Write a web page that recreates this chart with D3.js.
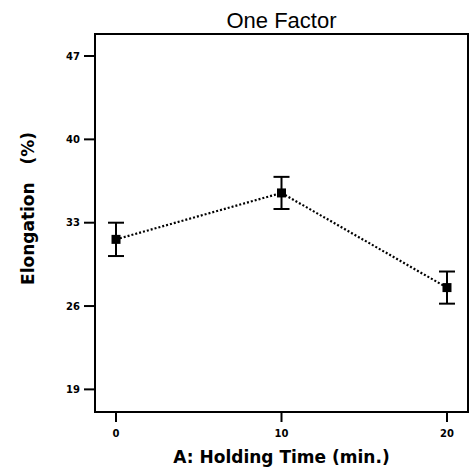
<!DOCTYPE html>
<html lang="en">
<head>
<meta charset="utf-8">
<title>One Factor</title>
<script src="https://d3js.org/d3.v7.min.js"></script>
<style>
  body { margin: 0; background: #fff; }
  text { font-family: "Liberation Sans", Arial, sans-serif; }
  .bold { font-family: "DejaVu Sans", sans-serif; font-weight: bold; }
</style>
</head>
<body>
<script>
// data
var times = [0, 10, 20];
var elongation = [31.6, 35.5, 27.55];
var errLow = [30.2, 34.15, 26.2];
var errHigh = [33.0, 36.85, 28.9];
var yTicks = [19, 26, 33, 40, 47];
var xTicks = [0, 10, 20];

var W = 471, H = 468;
var pLeft = 95, pRight = 468, pTop = 34, pBottom = 412;

var svg = d3.select("body").append("svg")
    .attr("width", W).attr("height", H);

var x = d3.scaleLinear().domain([-1.27, 21.27]).range([pLeft, pRight]);
var y = d3.scaleLinear().domain([17.1, 48.85]).range([pBottom, pTop]);

// frame
svg.append("rect")
    .attr("x", pLeft).attr("y", pTop)
    .attr("width", pRight - pLeft).attr("height", pBottom - pTop)
    .attr("fill", "none").attr("stroke", "#000").attr("stroke-width", 2);

// y axis ticks
var yAxis = svg.append("g");
yAxis.selectAll("line").data(yTicks).enter().append("line")
    .attr("x1", pLeft - 11).attr("x2", pLeft)
    .attr("y1", function(d) { return y(d); })
    .attr("y2", function(d) { return y(d); })
    .attr("stroke", "#000").attr("stroke-width", 2);
yAxis.selectAll("text").data(yTicks).enter().append("text")
    .attr("class", "bold")
    .attr("x", pLeft - 15)
    .attr("y", function(d) { return y(d); })
    .attr("dy", "0.36em")
    .attr("text-anchor", "end")
    .attr("font-size", 10)
    .text(function(d) { return d; });

// x axis ticks
var xAxis = svg.append("g");
xAxis.selectAll("line").data(xTicks).enter().append("line")
    .attr("x1", function(d) { return x(d); })
    .attr("x2", function(d) { return x(d); })
    .attr("y1", pBottom).attr("y2", pBottom + 10)
    .attr("stroke", "#000").attr("stroke-width", 2);
xAxis.selectAll("text").data(xTicks).enter().append("text")
    .attr("class", "bold")
    .attr("x", function(d) { return x(d); })
    .attr("y", pBottom + 25)
    .attr("text-anchor", "middle")
    .attr("font-size", 10)
    .text(function(d) { return d; });

// titles
svg.append("text")
    .attr("x", (pLeft + pRight) / 2).attr("y", 28)
    .attr("text-anchor", "middle")
    .attr("font-size", 22)
    .text("One Factor");

svg.append("text")
    .attr("class", "bold")
    .attr("x", (pLeft + pRight) / 2).attr("y", 463)
    .attr("text-anchor", "middle")
    .attr("font-size", 17)
    .text("A: Holding Time (min.)");

svg.append("text")
    .attr("class", "bold")
    .attr("transform", "translate(34,208.5) rotate(-90)")
    .attr("text-anchor", "middle")
    .attr("font-size", 17)
    .style("white-space", "pre")
    .text("Elongation   (%)");

// dotted line
var pts = times.map(function(t, i) { return [t, elongation[i]]; });
svg.append("path")
    .attr("d", d3.line().x(function(d) { return x(d[0]); }).y(function(d) { return y(d[1]); })(pts))
    .attr("fill", "none").attr("stroke", "#000")
    .attr("stroke-width", 2.2).attr("stroke-dasharray", "2,2");

// error bars
var eb = svg.append("g").selectAll("g").data(times).enter().append("g");
eb.append("line")
    .attr("x1", function(d) { return x(d); }).attr("x2", function(d) { return x(d); })
    .attr("y1", function(d, i) { return y(errLow[i]); })
    .attr("y2", function(d, i) { return y(errHigh[i]); })
    .attr("stroke", "#000").attr("stroke-width", 2);
[errLow, errHigh].forEach(function(arr) {
  eb.append("line")
    .attr("x1", function(d) { return x(d) - 8; }).attr("x2", function(d) { return x(d) + 8; })
    .attr("y1", function(d, i) { return y(arr[i]); })
    .attr("y2", function(d, i) { return y(arr[i]); })
    .attr("stroke", "#000").attr("stroke-width", 2);
});
eb.append("rect")
    .attr("x", function(d) { return x(d) - 4.5; })
    .attr("y", function(d, i) { return y(elongation[i]) - 4.5; })
    .attr("width", 9).attr("height", 9)
    .attr("fill", "#000");
</script>
</body>
</html>
